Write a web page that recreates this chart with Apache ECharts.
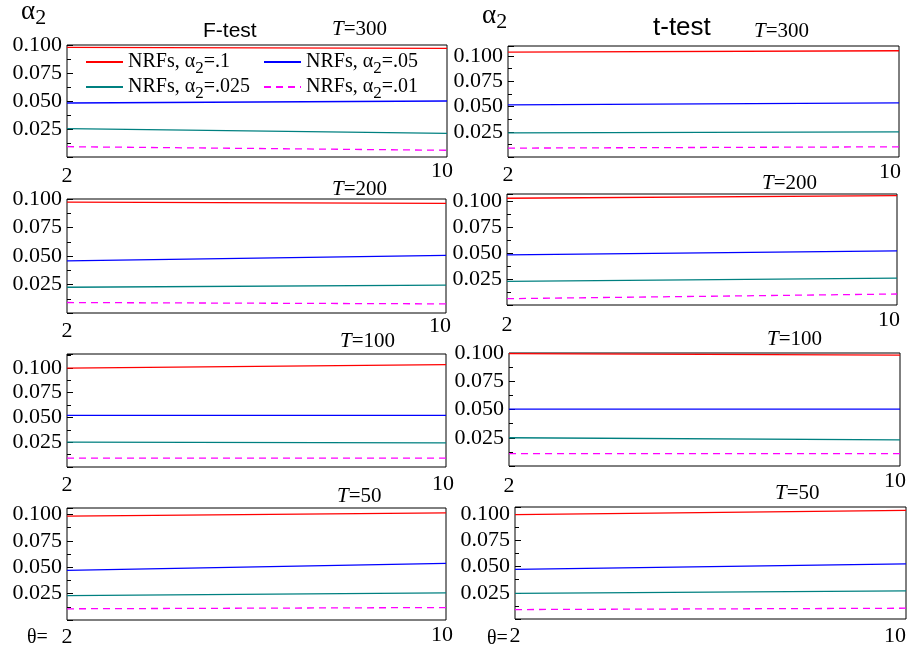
<!DOCTYPE html>
<html>
<head>
<meta charset="utf-8">
<script src="https://cdn.jsdelivr.net/npm/echarts@6/dist/echarts.min.js"></script>
<style>
  html, body { margin: 0; padding: 0; background: #fff; }
  #chart { width: 914px; height: 648px; }
</style>
</head>
<body>
<div id="chart"></div>
<script>
// theta on the x axis
const theta = [2, 10];
const yTickLabels = [0.025, 0.050, 0.075, 0.100];
const seriesNames = ['NRFs, α2=.1', 'NRFs, α2=.05', 'NRFs, α2=.025', 'NRFs, α2=.01'];

// rejection rates, rows = alpha2 .1 / .05 / .025 / .01, values at theta 2 and 10
const fT300 = [[0.0979, 0.0970], [0.0482, 0.0500], [0.0253, 0.0211], [0.0092, 0.0060]];
const tT300 = [[0.1040, 0.1053], [0.0516, 0.0536], [0.0239, 0.0249], [0.0088, 0.0101]];
const fT200 = [[0.0973, 0.0961], [0.0458, 0.0505], [0.0226, 0.0244], [0.0092, 0.0080]];
const tT200 = [[0.1029, 0.1054], [0.0484, 0.0522], [0.0227, 0.0260], [0.0061, 0.0106]];
const fT100 = [[0.0998, 0.1033], [0.0520, 0.0520], [0.0250, 0.0244], [0.0090, 0.0090]];
const tT100 = [[0.0994, 0.0982], [0.0503, 0.0503], [0.0250, 0.0232], [0.0110, 0.0110]];
const fT50 = [[0.0983, 0.1014], [0.0469, 0.0535], [0.0231, 0.0256], [0.0106, 0.0118]];
const tT50 = [[0.0997, 0.1038], [0.0475, 0.0526], [0.0244, 0.0269], [0.0090, 0.0103]];

const colors = ['#ff0000', '#0000ff', '#008080', '#ff00ff'];
const serif = 'Liberation Serif';

// panel boxes: position, y max, x label offsets
const panels = [
  { d: fT300, left: 67, top: 45, w: 380, h: 112, yMax: 0.1, m: 3, two: 5, ten: 10 },
  { d: tT300, left: 508, top: 46, w: 391, h: 111, yMax: 0.11, m: 4, two: 3, ten: 18 },
  { d: fT200, left: 67, top: 199, w: 379, h: 114, yMax: 0.1, m: 2, two: 5, ten: 12 },
  { d: tT200, left: 507, top: 194, w: 390, h: 111, yMax: 0.107, m: 4, two: 5, ten: 16 },
  { d: fT100, left: 67, top: 354, w: 379, h: 113, yMax: 0.114, m: 6, two: 1, ten: 6 },
  { d: tT100, left: 509, top: 353, w: 391, h: 113, yMax: 0.1, m: 4, two: 5, ten: 10 },
  { d: fT50, left: 67, top: 508, w: 379, h: 113, yMax: 0.106, m: 4, two: 2, ten: 8 },
  { d: tT50, left: 515, top: 507, w: 391, h: 112, yMax: 0.107, m: 6, two: 0, ten: 22 }
];

const grids = [], xAxes = [], yAxes = [], series = [];
panels.forEach((p, i) => {
  grids.push({
    left: p.left, top: p.top, width: p.w, height: p.h,
    show: true, borderColor: '#000', borderWidth: 1, backgroundColor: 'transparent'
  });
  xAxes.push({
    gridIndex: i, type: 'value', min: 2, max: 10, interval: 2,
    axisLine: { show: false }, axisTick: { show: false }, splitLine: { show: false },
    axisLabel: {
      margin: p.m,
      formatter: v => v === 2 ? '{a|2}' : (v === 10 ? '{b|10}' : ''),
      rich: {
        a: { fontFamily: serif, fontSize: 22, color: '#000', padding: [p.two, 0, 0, 0] },
        b: { fontFamily: serif, fontSize: 22, color: '#000', padding: [0, p.ten, 0, 0] }
      }
    }
  });
  yAxes.push({
    gridIndex: i, type: 'value', min: 0, max: p.yMax, interval: 0.025,
    axisLine: { show: false },
    axisTick: { show: true, inside: true, length: 6, lineStyle: { color: '#000' } },
    minorTick: { show: true, splitNumber: 2, length: 4, lineStyle: { color: '#000' } },
    splitLine: { show: false },
    axisLabel: {
      fontFamily: serif, fontSize: 22, color: '#000', margin: 5,
      formatter: v => yTickLabels.some(t => Math.abs(t - v) < 1e-6) ? v.toFixed(3) : ''
    }
  });
  p.d.forEach((vals, k) => {
    series.push({
      name: seriesNames[k], type: 'line', xAxisIndex: i, yAxisIndex: i,
      symbol: 'none', silent: true,
      lineStyle: { color: colors[k], width: 1.3, type: k === 3 ? [7, 5] : 'solid' },
      itemStyle: { color: colors[k] },
      data: theta.map((t, j) => [t, vals[j]])
    });
  });
});

const legendText = {
  fontFamily: serif, fontSize: 20, color: '#000',
  rich: {
    t: { fontFamily: serif, fontSize: 20, color: '#000' },
    s: { fontFamily: serif, fontSize: 17, color: '#000', padding: [13, 0, 0, 0] }
  }
};
const legendFmt = name => {
  const parts = name.split('α2');
  return '{t|' + parts[0] + 'α}{s|2}{t|' + parts[1] + '}';
};
const legendBase = {
  orient: 'vertical', top: 47, itemWidth: 37, itemHeight: 14, itemGap: 0,
  selectedMode: false, textStyle: legendText, formatter: legendFmt,
  itemStyle: { opacity: 0 }
};

const txt = (left, top, text, rich) => ({
  type: 'text', left: left, top: top, silent: true,
  style: { text: text, rich: rich, fill: '#000', font: '20px ' + serif }
});

const alphaRich = {
  a: { fontFamily: serif, fontSize: 27, fill: '#000' },
  s: { fontFamily: serif, fontSize: 22, fill: '#000', padding: [14, 0, 0, 0] }
};
const tRich = {
  i: { fontFamily: serif, fontSize: 21, fontStyle: 'italic', fill: '#000' },
  n: { fontFamily: serif, fontSize: 21, fill: '#000' }
};

const graphic = [
  txt(21, -2, '{a|α}{s|2}', alphaRich),
  txt(482, 2, '{a|α}{s|2}', alphaRich),
  { type: 'text', left: 203, top: 21, silent: true,
    style: { text: 'F-test', fill: '#000', font: '21px "Liberation Sans"' } },
  { type: 'text', left: 653, top: 15, silent: true,
    style: { text: 't-test', fill: '#000', font: '26px "Liberation Sans"' } },
  txt(332, 19, '{i|T}{n|=300}', tRich),
  txt(754, 21, '{i|T}{n|=300}', tRich),
  txt(332, 179, '{i|T}{n|=200}', tRich),
  txt(762, 173, '{i|T}{n|=200}', tRich),
  txt(340, 331, '{i|T}{n|=100}', tRich),
  txt(767, 329, '{i|T}{n|=100}', tRich),
  txt(337, 486, '{i|T}{n|=50}', tRich),
  txt(775, 483, '{i|T}{n|=50}', tRich),
  { type: 'text', left: 27, top: 628, silent: true,
    style: { text: 'θ=', fill: '#000', font: '20px ' + serif } },
  { type: 'text', left: 487, top: 629, silent: true,
    style: { text: 'θ=', fill: '#000', font: '20px ' + serif } }
];

const chart = echarts.init(document.getElementById('chart'), null, { renderer: 'canvas' });
chart.setOption({
  animation: false,
  backgroundColor: '#fff',
  grid: grids,
  xAxis: xAxes,
  yAxis: yAxes,
  legend: [
    Object.assign({ left: 80, data: [seriesNames[0], seriesNames[2]] }, legendBase),
    Object.assign({ left: 258, data: [seriesNames[1], seriesNames[3]] }, legendBase)
  ],
  graphic: graphic,
  series: series
});
</script>
</body>
</html>
